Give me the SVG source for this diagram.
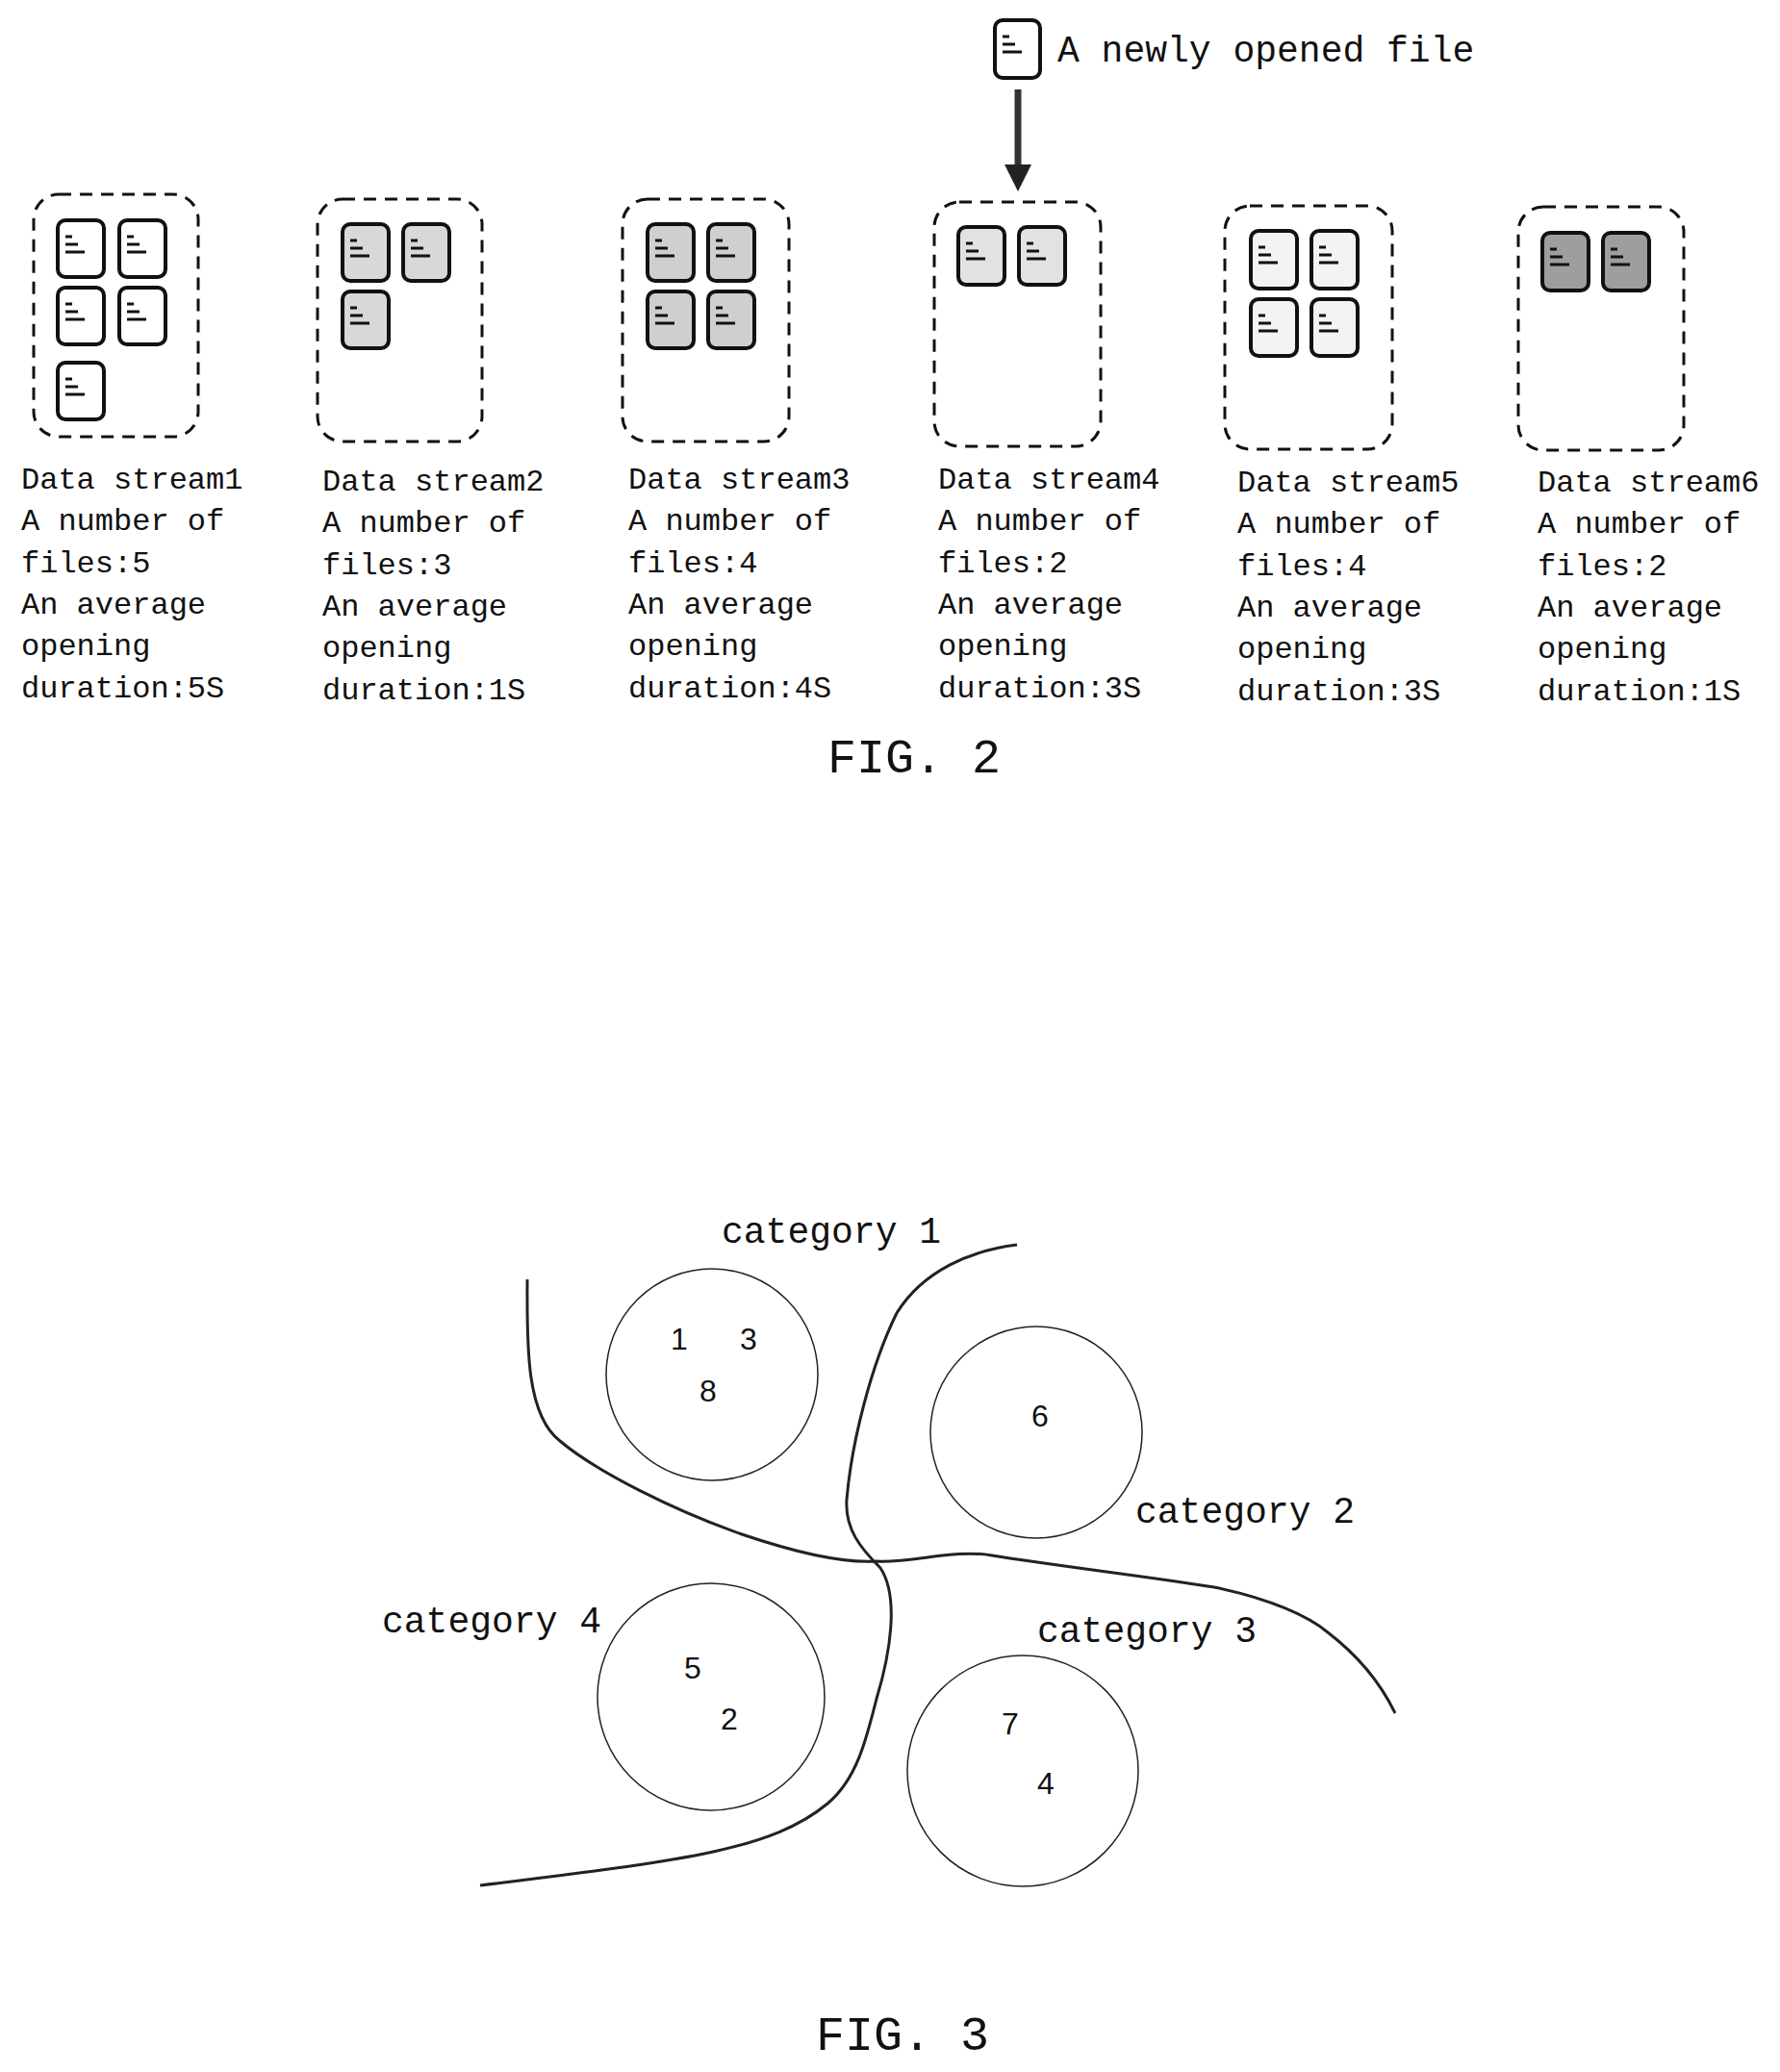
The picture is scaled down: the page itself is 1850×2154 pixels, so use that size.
<svg xmlns="http://www.w3.org/2000/svg" width="1850" height="2154" viewBox="0 0 1850 2154">
<style>
.bg{fill:#fff}
.box{fill:none;stroke:#111;stroke-width:3;stroke-dasharray:13 9}
.ic{stroke:#111;stroke-width:4}
.bar{stroke:#111;stroke-width:3}
.lbl{font-family:"Liberation Mono",monospace;font-size:32px;fill:#111}
.cat{font-family:"Liberation Mono",monospace;font-size:38px;fill:#111}
.fig{font-family:"Liberation Mono",monospace;font-size:50px;fill:#111}
.num{font-family:"Liberation Sans",Arial,sans-serif;font-size:32px;fill:#111;text-anchor:middle;dominant-baseline:central}
.circ{fill:none;stroke:#222;stroke-width:1.5}
.curve{fill:none;stroke:#222;stroke-width:3}
</style>
<defs>
<g id="bars"><line class="bar" x1="8" y1="17" x2="15" y2="17"/><line class="bar" x1="8" y1="25" x2="21" y2="25"/><line class="bar" x1="8" y1="33" x2="28" y2="33"/></g>
<marker id="ah" markerWidth="4" markerHeight="4" refX="1" refY="2" orient="auto" markerUnits="strokeWidth" viewBox="0 0 4 4"><path d="M0,0 L4,2 L0,4 Z" fill="#222"/></marker>
</defs>
<rect class="bg" width="1850" height="2154"/>

<g id="newfile">
<rect class="ic" x="1034" y="21" width="47" height="60" rx="8" fill="#fff"/>
<use href="#bars" x="1034" y="21"/>
<text class="cat" x="1099" y="64" font-size="39">A newly opened file</text>
</g>

<g id="stream1">
<rect class="box" x="35" y="202" width="171" height="252" rx="26"/>
<g fill="#fff">
<rect class="ic" x="60" y="229" width="48" height="59" rx="8"/><use href="#bars" x="60" y="229"/>
<rect class="ic" x="124" y="229" width="48" height="59" rx="8"/><use href="#bars" x="124" y="229"/>
<rect class="ic" x="60" y="299" width="48" height="59" rx="8"/><use href="#bars" x="60" y="299"/>
<rect class="ic" x="124" y="299" width="48" height="59" rx="8"/><use href="#bars" x="124" y="299"/>
<rect class="ic" x="60" y="377" width="48" height="59" rx="8"/><use href="#bars" x="60" y="377"/>
</g>
<text class="lbl"><tspan x="22" y="508">Data stream1</tspan><tspan x="22" y="551">A number of</tspan><tspan x="22" y="595">files:5</tspan><tspan x="22" y="638">An average</tspan><tspan x="22" y="681">opening</tspan><tspan x="22" y="725">duration:5S</tspan></text>
</g>

<g id="stream2">
<rect class="box" x="330" y="207" width="171" height="252" rx="26"/>
<g fill="#d8d8d8">
<rect class="ic" x="356" y="233" width="48" height="59" rx="8"/><use href="#bars" x="356" y="233"/>
<rect class="ic" x="419" y="233" width="48" height="59" rx="8"/><use href="#bars" x="419" y="233"/>
<rect class="ic" x="356" y="303" width="48" height="59" rx="8"/><use href="#bars" x="356" y="303"/>
</g>
<text class="lbl"><tspan x="335" y="510">Data stream2</tspan><tspan x="335" y="553">A number of</tspan><tspan x="335" y="597">files:3</tspan><tspan x="335" y="640">An average</tspan><tspan x="335" y="683">opening</tspan><tspan x="335" y="727">duration:1S</tspan></text>
</g>

<g id="stream3">
<rect class="box" x="647" y="207" width="173" height="252" rx="26"/>
<g fill="#cfcfcf">
<rect class="ic" x="673" y="233" width="48" height="59" rx="8"/><use href="#bars" x="673" y="233"/>
<rect class="ic" x="736" y="233" width="48" height="59" rx="8"/><use href="#bars" x="736" y="233"/>
<rect class="ic" x="673" y="303" width="48" height="59" rx="8"/><use href="#bars" x="673" y="303"/>
<rect class="ic" x="736" y="303" width="48" height="59" rx="8"/><use href="#bars" x="736" y="303"/>
</g>
<text class="lbl"><tspan x="653" y="508">Data stream3</tspan><tspan x="653" y="551">A number of</tspan><tspan x="653" y="595">files:4</tspan><tspan x="653" y="638">An average</tspan><tspan x="653" y="681">opening</tspan><tspan x="653" y="725">duration:4S</tspan></text>
</g>

<g id="stream4">
<rect class="box" x="971" y="210" width="173" height="254" rx="26"/>
<g fill="#e2e2e2">
<rect class="ic" x="996" y="236" width="48" height="60" rx="8"/><use href="#bars" x="996" y="236"/>
<rect class="ic" x="1059" y="236" width="48" height="60" rx="8"/><use href="#bars" x="1059" y="236"/>
</g>
<text class="lbl"><tspan x="975" y="508">Data stream4</tspan><tspan x="975" y="551">A number of</tspan><tspan x="975" y="595">files:2</tspan><tspan x="975" y="638">An average</tspan><tspan x="975" y="681">opening</tspan><tspan x="975" y="725">duration:3S</tspan></text>
</g>

<g id="stream5">
<rect class="box" x="1273" y="214" width="174" height="253" rx="26"/>
<g fill="#f3f3f3">
<rect class="ic" x="1300" y="240" width="48" height="60" rx="8"/><use href="#bars" x="1300" y="240"/>
<rect class="ic" x="1363" y="240" width="48" height="60" rx="8"/><use href="#bars" x="1363" y="240"/>
<rect class="ic" x="1300" y="311" width="48" height="59" rx="8"/><use href="#bars" x="1300" y="311"/>
<rect class="ic" x="1363" y="311" width="48" height="59" rx="8"/><use href="#bars" x="1363" y="311"/>
</g>
<text class="lbl"><tspan x="1286" y="511">Data stream5</tspan><tspan x="1286" y="554">A number of</tspan><tspan x="1286" y="598">files:4</tspan><tspan x="1286" y="641">An average</tspan><tspan x="1286" y="684">opening</tspan><tspan x="1286" y="728">duration:3S</tspan></text>
</g>

<g id="stream6">
<rect class="box" x="1578" y="215" width="172" height="253" rx="26"/>
<g fill="#9e9e9e">
<rect class="ic" x="1603" y="242" width="48" height="60" rx="8"/><use href="#bars" x="1603" y="242"/>
<rect class="ic" x="1666" y="242" width="48" height="60" rx="8"/><use href="#bars" x="1666" y="242"/>
</g>
<text class="lbl"><tspan x="1598" y="511">Data stream6</tspan><tspan x="1598" y="554">A number of</tspan><tspan x="1598" y="598">files:2</tspan><tspan x="1598" y="641">An average</tspan><tspan x="1598" y="684">opening</tspan><tspan x="1598" y="728">duration:1S</tspan></text>
</g>

<g id="connectors">
<line x1="1058" y1="93" x2="1058" y2="178" stroke="#333" stroke-width="7" marker-end="url(#ah)"/>
</g>

<text class="fig" x="860" y="803">FIG. 2</text>

<g id="fig3">
<path class="curve" d="M548,1330 C548,1390 545,1470 582,1498 C620,1530 700,1570 771,1595 C830,1615 880,1625 911,1623 C950,1625 990,1610 1031,1617 C1100,1628 1200,1640 1262,1650 C1320,1662 1360,1680 1380,1697 C1410,1720 1435,1750 1450,1781"/>
<path class="curve" d="M1057,1294 C1010,1300 960,1320 932,1365 C905,1420 885,1500 880,1559 C878,1590 895,1610 915,1630 C935,1660 925,1720 911,1766 C900,1810 890,1850 860,1875 C800,1925 700,1935 499,1960"/>
<g id="cat1"><circle class="circ" cx="740" cy="1429" r="110"/><text class="num" x="706" y="1392">1</text><text class="num" x="778" y="1392">3</text><text class="num" x="736" y="1446">8</text><text class="cat" x="750" y="1292">category 1</text></g>
<g id="cat2"><circle class="circ" cx="1077" cy="1489" r="110"/><text class="num" x="1081" y="1472">6</text><text class="cat" x="1180" y="1583">category 2</text></g>
<g id="cat4"><circle class="circ" cx="739" cy="1764" r="118"/><text class="num" x="720" y="1734">5</text><text class="num" x="758" y="1787">2</text><text class="cat" x="397" y="1697">category 4</text></g>
<g id="cat3"><circle class="circ" cx="1063" cy="1841" r="120"/><text class="num" x="1050" y="1792">7</text><text class="num" x="1087" y="1854">4</text><text class="cat" x="1078" y="1707">category 3</text></g>
<text class="fig" x="848" y="2131">FIG. 3</text>
</g>
</svg>
